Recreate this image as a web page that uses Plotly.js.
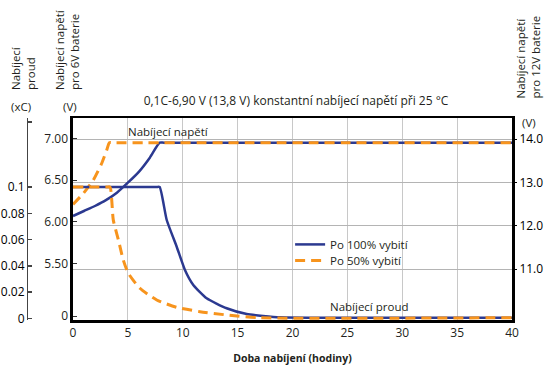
<!DOCTYPE html>
<html>
<head>
<meta charset="utf-8">
<script src="https://cdn.plot.ly/plotly-3.0.1.min.js"></script>
<style>html,body{margin:0;padding:0;background:#fff;}#chart{width:547px;height:365px;}</style>
</head>
<body>
<div id="chart"></div>
<script>
// Charging voltage (6V battery), after 100% discharge
const hoursV100 = [0, 1, 2, 3, 4, 5, 6, 7, 7.9, 8.3, 40];
const voltV100  = [6.07, 6.13, 6.19, 6.26, 6.35, 6.47, 6.60, 6.77, 6.95, 6.95, 6.95];
// Charging voltage (6V battery), after 50% discharge
const hoursV50 = [0, 0.94, 1.85, 2.61, 3.07, 3.31, 3.6, 40];
const voltV50  = [6.21, 6.34, 6.50, 6.70, 6.86, 6.95, 6.95, 6.95];
// Charging current (xC), after 100% discharge
const hoursI100 = [0, 7.6, 7.9, 8.54, 9.45, 10.2, 10.96, 12.18, 14.0, 15.83, 18.86, 22, 40];
const currI100  = [0.1, 0.1, 0.1, 0.0749, 0.0546, 0.0369, 0.0255, 0.0154, 0.0078, 0.0034, 0.0009, 0.0006, 0.0006];
// Charging current (xC), after 50% discharge
const hoursI50 = [0, 3.1, 3.37, 3.67, 4.13, 4.58, 5.04, 6.1, 7.63, 9.45, 11.57, 14, 17, 40];
const currI50  = [0.1, 0.1, 0.1, 0.075, 0.06, 0.0445, 0.0344, 0.023, 0.0141, 0.0085, 0.0052, 0.0027, 0.0006, 0.0006];

const xTicks = [0, 5, 10, 15, 20, 25, 30, 35, 40];
const v6TickVals = [4.87, 5.5, 6.0, 6.5, 7.0];
const v6TickText = ['0', '5.50', '6.00', '6.50', '7.00'];
const v12TickVals = [11, 12, 13, 14];
const v12TickText = ['11.0', '12.0', '13.0', '14.0'];
const iTickVals = [0, 0.02, 0.04, 0.06, 0.08, 0.1, 0.1494];
const iTickText = ['0', '0.02', '0.04', '0.06', '0.08', '0.1', ''];

const BLUE = '#2b3990';
const ORANGE = '#f7941d';
const FONT = 'Open Sans, Noto Sans, sans-serif';
const TXT = '#231f20';
const GRID = '#c8c8c8';
const HGRID = '#b4b4b4';

const traces = [
  // empty trace so that the 12V axis (right) is drawn
  {x: [], y: [], yaxis: 'y2', mode: 'lines', showlegend: false, hoverinfo: 'skip'},
  {x: hoursV100, y: voltV100, yaxis: 'y', mode: 'lines', name: 'Po 100% vybití', legend: 'legend',
   line: {color: BLUE, width: 2.5, shape: 'spline', smoothing: 0.6}},
  {x: hoursI100, y: currI100, yaxis: 'y3', mode: 'lines', showlegend: false,
   line: {color: BLUE, width: 2.5, shape: 'spline', smoothing: 0.5}},
  {x: hoursV50, y: voltV50, yaxis: 'y', mode: 'lines', name: 'Po 50% vybití', legend: 'legend2',
   line: {color: ORANGE, width: 3, dash: '10px,6px', shape: 'spline', smoothing: 0.5}},
  {x: hoursI50, y: currI50, yaxis: 'y3', mode: 'lines', showlegend: false,
   line: {color: ORANGE, width: 3, dash: '10px,6px', shape: 'spline', smoothing: 0.6}}
];

function ann(text, x, y, opts) {
  return Object.assign({text: text, x: x, y: y, xref: 'paper', yref: 'paper',
    showarrow: false, font: {family: FONT, size: 11.5, color: TXT},
    xanchor: 'center', yanchor: 'middle'}, opts || {});
}

const legendBase = {xanchor: 'left', yanchor: 'top',
  bgcolor: 'rgba(0,0,0,0)', borderwidth: 0, itemwidth: 30,
  font: {family: FONT, size: 11.5, color: TXT}};

const tickFont = {family: FONT, size: 12, color: TXT};

const layout = {
  width: 547, height: 365,
  margin: {l: 20, r: 35, t: 118, b: 45, pad: 0},
  paper_bgcolor: '#fff', plot_bgcolor: '#fff',
  font: {family: FONT, size: 12, color: TXT},
  showlegend: true,
  title: {text: '0,1C-6,90 V (13,8 V) konstantní nabíjecí napětí při 25 °C',
    xref: 'paper', x: 0.561, xanchor: 'center',
    yref: 'container', y: 1 - 101/365, yanchor: 'middle',
    font: {family: FONT, size: 12, color: TXT}},
  xaxis: {domain: [0.1077, 1], range: [0, 40], tickvals: xTicks,
    showgrid: true, gridcolor: GRID, gridwidth: 1, zeroline: false,
    showline: true, linecolor: '#000', linewidth: 2.5, mirror: true,
    ticks: '', tickfont: tickFont,
    title: {text: '<b>Doba nabíjení (hodiny)</b>', standoff: 17, font: {size: 10.5, family: FONT, color: TXT}},
    automargin: false},
  yaxis: {range: [4.822, 7.246], tickvals: v6TickVals, ticktext: v6TickText,
    showgrid: false, zeroline: false, showline: true, linecolor: '#000', linewidth: 2.5, mirror: true,
    ticks: 'inside', ticklen: 4, tickcolor: '#333', tickwidth: 1,
    tickfont: tickFont, automargin: false},
  yaxis2: {overlaying: 'y', side: 'right', anchor: 'x', range: [9.823, 14.485],
    tickvals: v12TickVals, ticktext: v12TickText,
    showgrid: true, gridcolor: HGRID, gridwidth: 1, zeroline: false,
    showline: false, ticks: 'outside', ticklen: 4, tickcolor: '#000', tickwidth: 1,
    tickfont: {family: FONT, size: 12, color: '#000'}, automargin: false},
  yaxis3: {overlaying: 'y', side: 'left', anchor: 'free', position: 0.0142,
    range: [-0.00114, 0.15247], tickvals: iTickVals, ticktext: iTickText,
    showgrid: false, zeroline: false, showline: true, linecolor: '#444', linewidth: 1.5,
    ticks: 'inside', ticklen: 4, tickcolor: '#444', tickwidth: 1.5,
    tickfont: {family: FONT, size: 12, color: '#000'}, automargin: false},
  legend: Object.assign({x: 0.549, y: 0.446}, legendBase),
  legend2: Object.assign({x: 0.549, y: 0.366}, legendBase),
  annotations: [
    ann('Nabíjecí<br>proud', 0.0061, 1.1287, {textangle: -90, yanchor: 'bottom', align: 'left'}),
    ann('(xC)', 0.002, 1.0545),
    ann('Nabíjecí napětí<br>pro 6V baterie', 0.0945, 1.1287, {textangle: -90, yanchor: 'bottom', align: 'left'}),
    ann('(V)', 0.1026, 1.0545),
    ann('Nabíjecí napětí<br>pro 12V baterie', 1.0325, 1.089, {textangle: -90, yanchor: 'bottom', align: 'left'}),
    ann('(V)', 1.0346, 0.98),
    ann('Nabíjecí napětí', 0.3028, 0.9356),
    ann('Nabíjecí proud', 0.711, 0.0693)
  ]
};

Plotly.newPlot('chart', traces, layout, {staticPlot: true, displayModeBar: false});
</script>
</body>
</html>
